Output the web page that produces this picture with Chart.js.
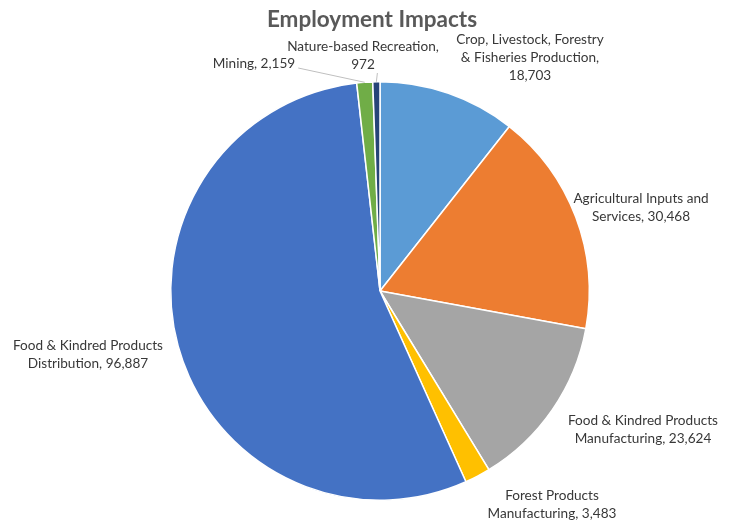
<!DOCTYPE html>
<html>
<head>
<meta charset="utf-8">
<script src="https://cdn.jsdelivr.net/npm/chart.js@4.4.0/dist/chart.umd.min.js"></script>
<style>
  html, body { margin: 0; padding: 0; background: #fff; }
  #wrap { width: 740px; height: 523px; }
</style>
</head>
<body>
<div id="wrap"><canvas id="chart"></canvas></div>
<script>
// data
const sectors = [
    'Crop, Livestock, Forestry & Fisheries Production',
    'Agricultural Inputs and Services',
    'Food & Kindred Products Manufacturing',
    'Forest Products Manufacturing',
    'Food & Kindred Products Distribution',
    'Mining',
    'Nature-based Recreation'
];
const jobs = [18703, 30468, 23624, 3483, 96887, 2159, 972];
const colors = ['#5B9BD5', '#ED7D31', '#A5A5A5', '#FFC000', '#4472C4', '#70AD47', '#264478'];

// label text lines (value appended) and placement relative to pie center
const labelLines = [
    ['Crop, Livestock, Forestry', '& Fisheries Production,', '18,703'],
    ['Agricultural Inputs and', 'Services, 30,468'],
    ['Food & Kindred Products', 'Manufacturing, 23,624'],
    ['Forest Products', 'Manufacturing, 3,483'],
    ['Food & Kindred Products', 'Distribution, 96,887'],
    ['Mining, 2,159'],
    ['Nature-based Recreation,', '972']
];
const labelOffsets = [[150, -233], [261, -83], [263, 139], [172, 214], [-292, 64], [-126, -227], [-17, -235]];
const leaders = [false, false, false, false, false, true, true];

const labelPlugin = {
    id: 'sliceLabels',
    afterDraw(chart) {
        const ctx = chart.ctx;
        const arcs = chart.getDatasetMeta(0).data;
        const lh = 18;
        ctx.save();
        ctx.font = '13.6px Lato, "Open Sans", sans-serif';
        ctx.fillStyle = '#383838';
        ctx.textAlign = 'center';
        ctx.textBaseline = 'middle';
        arcs.forEach((arc, i) => {
            const cx = arc.x, cy = arc.y;
            const lx = cx + labelOffsets[i][0];
            const ly = cy + labelOffsets[i][1];
            const lines = labelLines[i];
            const top = ly - (lines.length - 1) * lh / 2;
            lines.forEach((t, j) => ctx.fillText(t, lx, top + j * lh));
            if (leaders[i]) {
                const mid = (arc.startAngle + arc.endAngle) / 2;
                const ex = cx + Math.cos(mid) * arc.outerRadius;
                const ey = cy + Math.sin(mid) * arc.outerRadius;
                let sx, sy;
                if (lines.length === 1) {
                    sx = lx + ctx.measureText(lines[0]).width / 2 + 3;
                    sy = ly + 4;
                } else {
                    sx = ex + 1;
                    sy = top + (lines.length - 1) * lh + 8;
                }
                ctx.strokeStyle = '#BFBFBF';
                ctx.lineWidth = 1;
                ctx.beginPath();
                ctx.moveTo(sx, sy);
                ctx.lineTo(ex, ey);
                ctx.stroke();
            }
        });
        ctx.font = 'bold 22.5px Lato, "Open Sans", sans-serif';
        ctx.fillStyle = '#595959';
        ctx.fillText('Employment Impacts', 372, 20);
        ctx.restore();
    }
};

new Chart(document.getElementById('chart'), {
    type: 'pie',
    data: {
        labels: sectors,
        datasets: [{
            data: jobs,
            backgroundColor: colors,
            borderColor: '#ffffff',
            borderWidth: 1.5
        }]
    },
    options: {
        responsive: true,
        maintainAspectRatio: false,
        animation: false,
        layout: {
            padding: { left: 170, right: 150, top: 81, bottom: 22 }
        },
        plugins: {
            legend: { display: false },
            tooltip: { enabled: false }
        }
    },
    plugins: [labelPlugin]
});
</script>
</body>
</html>
